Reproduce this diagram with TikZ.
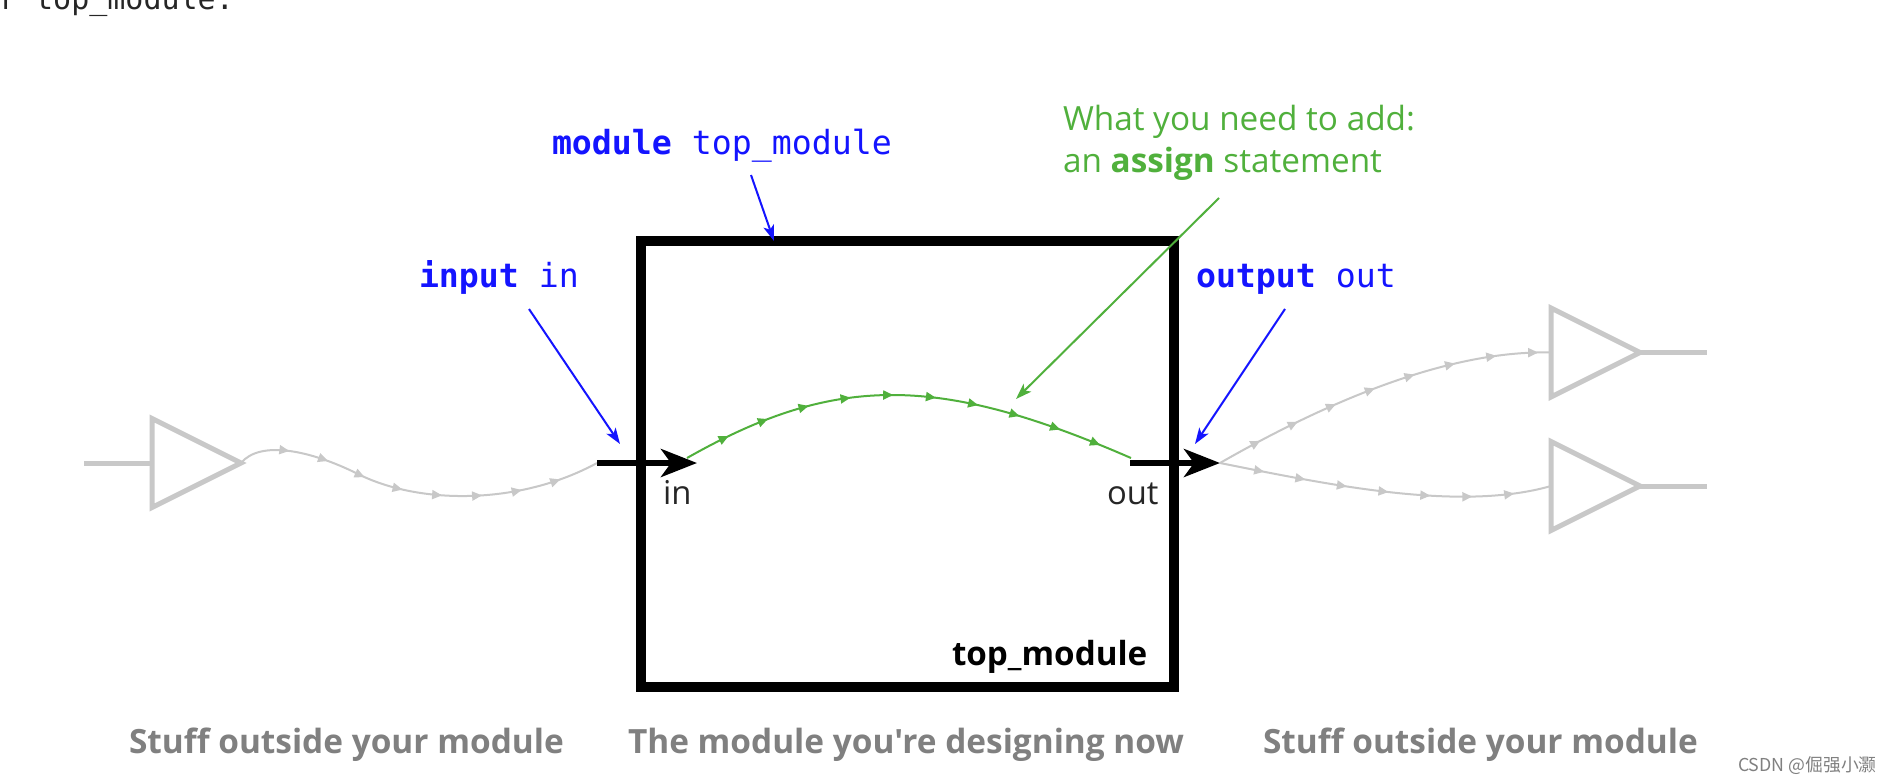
\documentclass[tikz,border=0pt]{standalone}
\usepackage{fontspec}
\setmainfont{Open Sans}
\newfontfamily\capf{Open Sans}
\newfontfamily\monof{DejaVu Sans Mono}
\newfontfamily\cjkf{Noto Sans CJK SC}
\usetikzlibrary{arrows.meta,shapes.geometric,decorations.markings}
\definecolor{bluec}{RGB}{20,20,255}
\definecolor{greenc}{RGB}{80,176,60}
\definecolor{grayw}{RGB}{200,200,200}
\definecolor{grayt}{RGB}{128,128,128}
\tikzset{
  x=.5pt,y=-.5pt,
  txt/.style={inner sep=0pt,outer sep=0pt,anchor=base west},
  montxt/.style={txt,font=\monof\fontsize{16.6pt}{20pt}\selectfont,text=bluec},
  captxt/.style={txt,font=\capf\fontsize{16.7pt}{20pt}\selectfont\bfseries,text=grayt},
  pintxt/.style={txt,font=\fontsize{16.4pt}{20pt}\selectfont,text=black!85},
  buf/.style={draw=grayw,line width=2.5pt,isosceles triangle,isosceles triangle stretches,minimum width=44.5pt,minimum height=44.5pt,inner sep=0pt,outer sep=0pt,anchor=lower side},
  stub/.style={draw=grayw,line width=2.5pt},
  marked/.style n args={2}{line width=1pt,postaction={decorate},decoration={markings,mark=between positions #1 and -2pt step #2 with {\arrow{Triangle[length=5pt,width=4.5pt]}}}},
  wire/.style={draw=grayw,color=grayw},
  gwire/.style={draw=greenc,color=greenc,marked={23.5pt}{21.4pt}},
  pinarrow/.style={line width=3pt,-{Stealth[length=18pt,width=14pt,inset=5pt]}},
  bluearrow/.style={draw=bluec,line width=1pt,-{Stealth[length=8pt,width=5.5pt,inset=2pt]}},
  greenarrow/.style={draw=greenc,line width=1pt,-{Stealth[length=8pt,width=5.5pt,inset=2pt]}},
}
\begin{document}
\begin{tikzpicture}
\useasboundingbox (0,0) rectangle (1890,783);
\clip (0,0) rectangle (1890,783);
\fill[white] (0,0) rectangle (1890,783);
\node[txt,font=\monof\fontsize{15pt}{18pt}\selectfont,text=black!85] (pagetext) at (-19,9) {ar top\_module:};
% coordinates
\coordinate (stubL) at (84,463);
\coordinate (stubR1) at (1707,352.5);
\coordinate (stubR2) at (1707,486);
\coordinate (pinInA) at (597,463);
\coordinate (pinInB) at (697,463);
\coordinate (pinOutA) at (1130,463);
\coordinate (pinOutB) at (1220,463);
\coordinate (greenA) at (687,458);
\coordinate (greenB) at (1131,458);
\coordinate (modFrom) at (751,175);
\coordinate (modTo) at (774,241);
\coordinate (inFrom) at (529,309);
\coordinate (inTo) at (620,444);
\coordinate (outFrom) at (1285,309);
\coordinate (outTo) at (1195,444);
\coordinate (addFrom) at (1219,198);
\coordinate (addTo) at (1016,399);
% buffers
\node[buf] (bufL) at (152,463) {};
\node[buf] (bufR1) at (1551,352.5) {};
\node[buf] (bufR2) at (1551,486) {};
\draw[stub] (stubL) -- (bufL.lower side);
\draw[stub] (bufR1.apex) -- (stubR1);
\draw[stub] (bufR2.apex) -- (stubR2);
% grey wires
\draw[wire,marked={26pt}{20pt}] (bufL.apex) .. controls (260,440) and (310,450) .. (358,474) .. controls (420,505) and (520,505) .. (pinInA);
\draw[wire,marked={23pt}{21pt}] (pinOutB) .. controls (1330,400) and (1450,350) .. (bufR1.lower side);
\draw[wire,marked={22.5pt}{21pt}] (pinOutB) .. controls (1330,485) and (1460,512) .. (bufR2.lower side);
% module
\node[draw=black,line width=5pt,minimum width=266.5pt,minimum height=223pt,inner sep=0pt,outer sep=0pt] (box) at (907,464) {};
\draw[gwire] (greenA) .. controls (835,374) and (938,374) .. (greenB);
\draw[pinarrow] (pinInA) -- (pinInB);
\draw[pinarrow] (pinOutA) -- (pinOutB);
% labels
\node[montxt] (lblmod) at (552,154) {\textbf{module} top\_module};
\node[montxt] (lblin) at (419,287) {\textbf{input} in};
\node[montxt] (lblout) at (1196,287) {\textbf{output} out};
\node[txt,font=\fontsize{16.66pt}{21pt}\selectfont,text=greenc,anchor=north west,align=left] (lbladd) at (1063,105) {What you need to add:\\an \textbf{assign} statement};
\node[pintxt] (lblpi) at (663,504) {in};
\node[pintxt] (lblpo) at (1107,504) {out};
\node[txt,font=\fontsize{16.6pt}{20pt}\selectfont\bfseries,text=black] (lbltop) at (952,665) {top\_module};
\node[captxt] (capL) at (129,753) {Stuff outside your module};
\node[captxt] (capM) at (628,753) {The module you're designing now};
\node[captxt] (capR) at (1263,753) {Stuff outside your module};
\node[txt,font=\cjkf\fontsize{8.9pt}{10pt}\selectfont,text=grayt] (wm) at (1738,771) {CSDN @倔强小灏};
% pointers
\draw[bluearrow] (modFrom) -- (modTo);
\draw[bluearrow] (inFrom) -- (inTo);
\draw[bluearrow] (outFrom) -- (outTo);
\draw[greenarrow] (addFrom) -- (addTo);
\end{tikzpicture}
\end{document}
